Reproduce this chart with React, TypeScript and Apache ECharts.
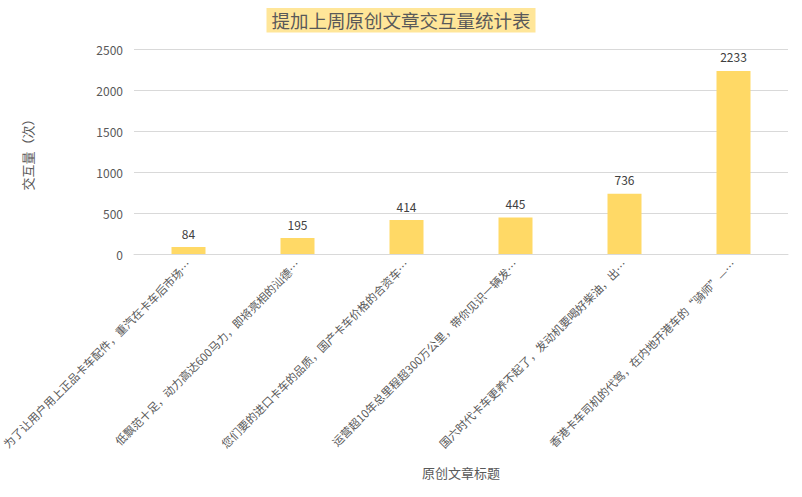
import React, { useEffect, useRef } from "react";
import * as echarts from "echarts";

const titleText = "提加上周原创文章交互量统计表";
const categories = [
  "为了让用户用上正品卡车配件，重汽在卡车后市场…",
  "低飘范十足，动力高达600马力，即将亮相的汕德…",
  "您们要的进口卡车的品质，国产卡车价格的合资车…",
  "运营超10年总里程超300万公里，带你见识一辆发…",
  "国六时代卡车更养不起了，发动机要喝好柴油，出…",
  "香港卡车司机的代驾，在内地开港车的“骑师”—…",
];
const values = [84, 195, 414, 445, 736, 2233];
const yAxisName = "交互量（次）";
const xAxisName = "原创文章标题";

export default function App() {
  const ref = useRef<HTMLDivElement>(null);
  useEffect(() => {
    if (!ref.current) return;
    const chart = echarts.init(ref.current, undefined, { renderer: "svg" });
    const font = "'Noto Sans CJK SC', 'Noto Sans', sans-serif";
    chart.setOption({
      animation: false,
      textStyle: { fontFamily: font },
      title: {
        text: titleText,
        left: "center",
        top: 8,
        padding: [3, 5],
        backgroundColor: "#FFE699",
        textStyle: { fontSize: 18.5, fontWeight: "normal", color: "#595959", fontFamily: font },
      },
      grid: { left: 134, right: 14, top: 49, bottom: 243, containLabel: false, outerBoundsMode: "none" },
      xAxis: {
        type: "category",
        data: categories,
        name: xAxisName,
        nameLocation: "middle",
        nameGap: 212,
        nameTextStyle: { fontSize: 13, color: "#595959" },
        axisLine: { lineStyle: { color: "#D9D9D9" } },
        axisTick: { show: false },
        axisLabel: { rotate: 45, interval: 0, fontSize: 11.3, color: "#595959", margin: 8 },
      },
      yAxis: {
        type: "value",
        min: 0,
        max: 2500,
        interval: 500,
        name: yAxisName,
        nameLocation: "middle",
        nameGap: 100,
        nameTextStyle: { fontSize: 13, color: "#595959" },
        axisLine: { show: false },
        axisTick: { show: false },
        axisLabel: { fontSize: 12, color: "#595959", margin: 11, formatter: (v: number) => String(v) },
        splitLine: { lineStyle: { color: "#D9D9D9" } },
      },
      series: [
        {
          type: "bar",
          data: values,
          barWidth: 34,
          itemStyle: { color: "#FFD966" },
          label: { show: true, position: "top", distance: 8, fontSize: 12, color: "#404040" },
        },
      ],
    });
    return () => chart.dispose();
  }, []);
  return (
    <div
      ref={ref}
      style={{ position: "fixed", left: 0, top: 0, width: 802, height: 497, background: "#fff" }}
    />
  );
}
